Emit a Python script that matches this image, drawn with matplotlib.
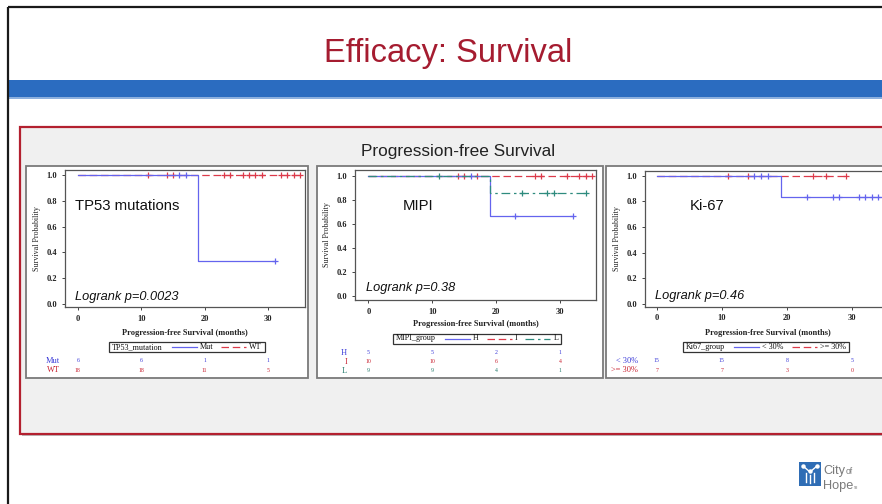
import numpy as np
import matplotlib
matplotlib.use('Agg')
import matplotlib.pyplot as plt
from matplotlib.patches import Rectangle
from matplotlib.lines import Line2D
import matplotlib.transforms as mtransforms

# ---------------- data ----------------
slide_title = "Efficacy: Survival"
section_title = "Progression-free Survival"
x_ticks = [0, 10, 20, 30]
y_ticks = [0.0, 0.2, 0.4, 0.6, 0.8, 1.0]

# Panel 1: TP53 mutations
tp53_label = "TP53 mutations"
tp53_p = "Logrank p=0.0023"
tp53_var = "TP53_mutation"
tp53_groups = ["Mut", "WT"]
tp53_mut_times = [0, 19, 31]
tp53_mut_surv = [1.0, 0.333, 0.333]
tp53_mut_censor = [16, 17, 31]
tp53_wt_times = [0, 35]
tp53_wt_surv = [1.0, 1.0]
tp53_wt_censor = [11, 14, 15, 23, 24, 26, 27, 28, 29, 32, 33, 34, 35]
tp53_risk_mut = [6, 6, 1, 1]
tp53_risk_wt = [18, 18, 11, 5]

# Panel 2: MIPI
mipi_label = "MIPI"
mipi_p = "Logrank p=0.38"
mipi_var = "MIPI_group"
mipi_groups = ["H", "I", "L"]
mipi_h_times = [0, 19, 32]
mipi_h_surv = [1.0, 0.667, 0.667]
mipi_h_censor = [16, 23, 32]
mipi_i_times = [0, 35]
mipi_i_surv = [1.0, 1.0]
mipi_i_censor = [14, 15, 17, 26, 27, 31, 33, 34, 35]
mipi_l_times = [0, 19, 34]
mipi_l_surv = [1.0, 0.857, 0.857]
mipi_l_censor = [11, 24, 28, 29, 34]
mipi_risk_h = [5, 5, 2, 1]
mipi_risk_i = [10, 10, 6, 4]
mipi_risk_l = [9, 9, 4, 1]

# Panel 3: Ki-67
ki_label = "Ki-67"
ki_p = "Logrank p=0.46"
ki_var = "Ki67_group"
ki_groups = ["< 30%", ">= 30%"]
ki_low_times = [0, 19, 35]
ki_low_surv = [1.0, 0.833, 0.833]
ki_low_censor = [15, 16, 17, 23, 27, 28, 31, 32, 33, 34]
ki_high_times = [0, 29]
ki_high_surv = [1.0, 1.0]
ki_high_censor = [11, 14, 24, 26, 29]
ki_risk_low = [15, 15, 8, 5]
ki_risk_high = [7, 7, 3, 0]

# ---------------- styles ----------------
BLUE = "#6464EE"
RED = "#DC3A4A"
TEAL = "#2E8B7E"
BLUE_T = "#3A3AD8"
RED_T = "#C8202F"
TEAL_T = "#237A6C"
STY = {
    "solid": dict(color=BLUE, ls="-"),
    "dash": dict(color=RED, ls=(0, (6, 3))),
    "dashdot": dict(color=TEAL, ls=(0, (7, 3, 2, 3))),
}
SANS = "Liberation Sans"
SERIF = "Liberation Serif"

W, H = 882, 504
fig = plt.figure(figsize=(W / 100, H / 100), dpi=100)
fig.patch.set_facecolor("white")
bg = fig.add_axes([0, 0, 1, 1])
bg.set_xlim(0, W)
bg.set_ylim(H, 0)
bg.axis("off")
renderer = fig.canvas.get_renderer()


def text_w(t):
    return t.get_window_extent(renderer=renderer).width


def ax_px(l, t, r, b):
    return fig.add_axes([l / W, 1 - b / H, (r - l) / W, (b - t) / H])


# slide frame
bg.plot([8, 8], [7, H], color="#1a1a1a", lw=1.6, solid_capstyle="butt")
bg.plot([8, W], [7, 7], color="#1a1a1a", lw=1.6, solid_capstyle="butt")
# title
bg.text(448, 62, slide_title, family=SANS, fontsize=23.5, color="#A51C30",
        ha="center", va="baseline")
# blue band
bg.add_patch(Rectangle((9, 80), W, 17, facecolor="#2B6CC0", edgecolor="none"))
bg.add_patch(Rectangle((9, 97), W, 1.5, facecolor="#8DB0DE", edgecolor="none"))
# red box with shadow
bg.add_patch(Rectangle((22, 129), W, 307, facecolor="#BDBDBD", edgecolor="none"))
bg.add_patch(Rectangle((20, 127), W, 307, facecolor="#F0F0F0",
                       edgecolor="#B3202F", lw=1.6))
bg.text(458, 155.7, section_title, family=SANS, fontsize=12.4, color="#222222",
        ha="center", va="baseline")
# panel frames
for (l, t, r, b) in [(26, 166, 308, 378), (317, 166, 603, 378), (606, 166, 910, 378)]:
    bg.add_patch(Rectangle((l, t), r - l, b - t, facecolor="white",
                           edgecolor="#7A7A7A", lw=1.3))

# logo
bg.add_patch(Rectangle((799, 462), 22, 24, facecolor="#2F6DB5", edgecolor="none"))
for seg in [((803, 466), (810, 472)), ((817, 466), (810, 472)),
            ((806, 482), (806, 473)), ((814, 482), (814, 473)),
            ((810, 483), (810, 475))]:
    bg.plot([seg[0][0], seg[1][0]], [seg[0][1], seg[1][1]], color="white", lw=1.0)
for cx, cy in [(803, 465.5), (817, 465.5), (810, 471)]:
    bg.plot(cx, cy, "o", color="white", ms=2.2)
t_city = bg.text(823, 474, "City", family=SANS, fontsize=9.2, color="#7A7A7A",
                 va="baseline")
bg.text(824 + text_w(t_city), 474, "of", family=SANS, fontsize=6.2,
        color="#7A7A7A", va="baseline")
t_hope = bg.text(823, 489, "Hope", family=SANS, fontsize=9.2, color="#7A7A7A",
                 va="baseline")
bg.text(824 + text_w(t_hope), 489, "TM", family=SANS, fontsize=2.2,
        color="#7A7A7A", va="baseline")


def surv_at(t, times, surv):
    idx = np.searchsorted(np.asarray(times), t, side="right") - 1
    return np.asarray(surv)[max(idx, 0)]


def draw_km(box, xlim, ylim, curves, label, label_pos, ptext, p_pos, xlabel_y):
    ax = ax_px(*box)
    ax.set_facecolor("white")
    for times, surv, censor, sty in curves:
        ax.step(times, surv, where="post", lw=0.9, **STY[sty])
        cy = [surv_at(c, times, surv) for c in censor]
        ax.plot(censor, cy, ls="none", marker="+", ms=5, mew=0.9,
                color=STY[sty]["color"])
    ax.set_xlim(*xlim)
    ax.set_ylim(*ylim)
    ax.set_xticks(x_ticks)
    ax.set_yticks(y_ticks)
    ax.set_yticklabels(["%.1f" % v for v in y_ticks])
    for sp in ax.spines.values():
        sp.set_color("#555555")
        sp.set_linewidth(0.9)
    ax.tick_params(direction="out", length=2.5, width=0.7, colors="#444444",
                   labelsize=6, pad=3)
    for lab in ax.get_xticklabels() + ax.get_yticklabels():
        lab.set_family(SERIF)
        lab.set_color("#222222")
        lab.set_fontweight("bold")
    ax.set_ylabel("Survival Probability", family=SERIF, fontsize=5.8,
                  color="#222222", labelpad=4)
    l, t, r, b = box
    bg.text((l + r) / 2, xlabel_y, "Progression-free Survival (months)",
            family=SERIF, fontsize=6, color="#222222", ha="center", va="center",
            fontweight="bold")
    ax.text(label_pos[0], label_pos[1], label, transform=bg.transData,
            family=SANS, fontsize=10.7, color="#111111", va="baseline")
    ax.text(p_pos[0], p_pos[1], ptext, transform=bg.transData,
            family=SANS, fontsize=9.2, style="italic", color="#111111",
            va="baseline")
    return ax


def draw_legend(x0, yc, title, entries):
    h = 10
    x = x0 + 3
    t = bg.text(x, yc, title, family=SERIF, fontsize=5.9, color="#111111",
                va="center")
    x += text_w(t) + 9
    for lab, sty in entries:
        bg.add_line(Line2D([x, x + 25], [yc, yc], lw=0.9, **STY[sty]))
        x += 28
        t = bg.text(x, yc, lab, family=SERIF, fontsize=5.9, color="#111111",
                    va="center")
        x += text_w(t) + 8
    bg.add_patch(Rectangle((x0, yc - h / 2), x - 5 - x0, h, facecolor="none",
                           edgecolor="#333333", lw=0.9))


def draw_risk(ax, label_x, rows):
    tr = mtransforms.blended_transform_factory(ax.transData, bg.transData)
    for lab, vals, y, col in rows:
        bg.text(label_x, y, lab, family=SERIF, fontsize=6, color=col,
                ha="right", va="center")
        for xv, v in zip(x_ticks, vals):
            ax.text(xv, y, str(v), transform=tr, family=SERIF, fontsize=4.2,
                    color=col, ha="center", va="center", clip_on=False)


# Panel 1
ax1 = draw_km((65, 170, 305, 307), (-2.0, 35.8), (-0.023, 1.039),
              [(tp53_wt_times, tp53_wt_surv, tp53_wt_censor, "dash"),
               (tp53_mut_times, tp53_mut_surv, tp53_mut_censor, "solid")],
              tp53_label, (75, 210), tp53_p, (75, 300), 333)
draw_legend(109, 347, tp53_var, [(tp53_groups[0], "solid"), (tp53_groups[1], "dash")])
draw_risk(ax1, 60, [(tp53_groups[0], tp53_risk_mut, 361, BLUE_T),
                    (tp53_groups[1], tp53_risk_wt, 370, RED_T)])

# Panel 2
ax2 = draw_km((355, 170, 596, 300), (-2.1, 35.6), (-0.036, 1.0475),
              [(mipi_i_times, mipi_i_surv, mipi_i_censor, "dash"),
               (mipi_h_times, mipi_h_surv, mipi_h_censor, "solid"),
               (mipi_l_times, mipi_l_surv, mipi_l_censor, "dashdot")],
              mipi_label, (402.7, 210), mipi_p, (366, 290.7), 324)
draw_legend(393, 338.5, mipi_var, [(mipi_groups[0], "solid"), (mipi_groups[1], "dash"),
                                   (mipi_groups[2], "dashdot")])
draw_risk(ax2, 347, [(mipi_groups[0], mipi_risk_h, 352.7, BLUE_T),
                     (mipi_groups[1], mipi_risk_i, 361.7, RED_T),
                     (mipi_groups[2], mipi_risk_l, 370.7, TEAL_T)])

# Panel 3 (extends beyond the right edge)
ax3 = draw_km((645, 170.7, 890, 306.7), (-1.8, 35.8), (-0.023, 1.039),
              [(ki_high_times, ki_high_surv, ki_high_censor, "dash"),
               (ki_low_times, ki_low_surv, ki_low_censor, "solid")],
              ki_label, (689.3, 210), ki_p, (655, 299.3), 332.7)
draw_legend(683, 347, ki_var, [(ki_groups[0], "solid"), (ki_groups[1], "dash")])
draw_risk(ax3, 638, [(ki_groups[0], ki_risk_low, 361, BLUE_T),
                     (ki_groups[1], ki_risk_high, 370, RED_T)])

fig.savefig("out.png", dpi=100)
